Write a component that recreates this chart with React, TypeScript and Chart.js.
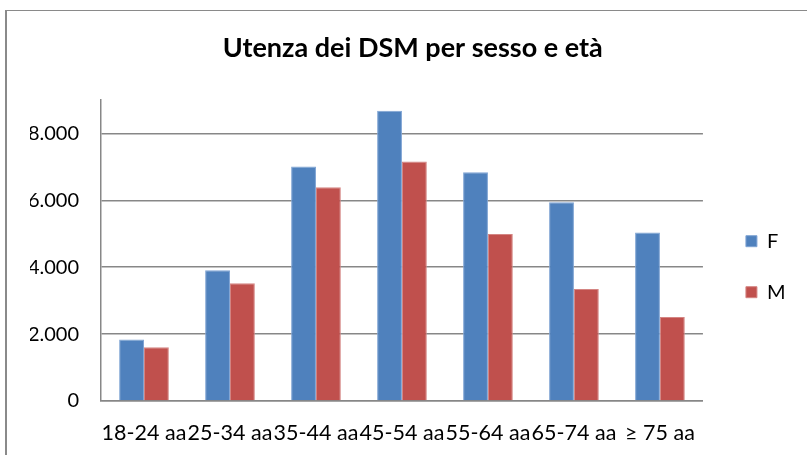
import React, { useEffect, useRef } from "react";
import { Chart, registerables } from "chart.js";

Chart.register(...registerables);

const categories = ["18-24 aa", "25-34 aa", "35-44 aa", "45-54 aa", "55-64 aa", "65-74 aa", "≥ 75 aa"];
const femaleValues = [1840, 3910, 7010, 8680, 6840, 5940, 5040];
const maleValues = [1610, 3520, 6390, 7160, 4990, 3350, 2510];
const seriesLabels = ["F", "M"];
const yTickValues = [0, 2000, 4000, 6000, 8000];
const yMax = 9000;
const titleText = "Utenza dei DSM per sesso e età";

const FONT = "Lato, 'Open Sans', 'DejaVu Sans', sans-serif";
const GRID = "#878787";

function formatIt(v: number): string {
  return v.toLocaleString("it-IT").replace(/\u00a0/g, ".");
}

export default function App() {
  const canvasRef = useRef<HTMLCanvasElement | null>(null);

  useEffect(() => {
    const canvas = canvasRef.current;
    if (!canvas) return;
    const chart = new Chart(canvas, {
      type: "bar",
      data: {
        labels: categories,
        datasets: [
          {
            label: seriesLabels[0],
            data: femaleValues,
            backgroundColor: "#4F81BD",
            borderColor: "#7FA4D4",
            borderWidth: 1,
            borderSkipped: "bottom",
            categoryPercentage: 0.578,
            barPercentage: 1,
          },
          {
            label: seriesLabels[1],
            data: maleValues,
            backgroundColor: "#C0504D",
            borderColor: "#D48583",
            borderWidth: 1,
            borderSkipped: "bottom",
            categoryPercentage: 0.578,
            barPercentage: 1,
          },
        ],
      },
      options: {
        responsive: false,
        animation: false,
        devicePixelRatio: 1,
        layout: { padding: { left: 30, right: 11.5, top: 0, bottom: 0 } },
        plugins: {
          title: {
            display: true,
            text: titleText,
            color: "#000",
            font: { family: FONT, size: 27, weight: "bold" },
            padding: { top: 32, bottom: 35.6 },
          },
          legend: {
            display: true,
            position: "right",
            fullSize: false,
            align: "center",
            title: { display: true, text: "", padding: { top: 9, bottom: 9 }, font: { size: 12 } },
            labels: {
              boxWidth: 11,
              boxHeight: 11,
              padding: 31,
              color: "#000",
              font: { family: FONT, size: 20 },
            },
          },
          tooltip: { enabled: false },
        },
        scales: {
          x: {
            grid: { display: false, drawTicks: false },
            border: { display: true, color: GRID, width: 1.5 },
            ticks: {
              color: "#000",
              font: { family: FONT, size: 21.5 },
              padding: 19,
              maxRotation: 0,
              autoSkip: false,
            },
            afterFit: (s: any) => {
              s.height = 54;
            },
          },
          y: {
            min: 0,
            max: yMax,
            afterBuildTicks: (s: any) => {
              s.ticks = [...yTickValues, yMax].map((v) => ({ value: v }));
            },
            grid: {
              drawTicks: false,
              color: (ctx: any) => (ctx.tick && ctx.tick.value === yMax ? "rgba(0,0,0,0)" : GRID),
              lineWidth: 1.5,
            },
            border: { display: true, color: GRID, width: 1.5 },
            ticks: {
              color: "#000",
              font: { family: FONT, size: 20 },
              padding: 22,
              callback: (v: any) => (Number(v) === yMax ? "" : formatIt(Number(v))),
            },
            afterFit: (s: any) => {
              s.width = 71;
            },
          },
          y2: {
            type: "linear",
            position: "right",
            display: true,
            grid: { display: false, drawTicks: false },
            border: { display: false },
            ticks: { display: false },
            afterFit: (s: any) => {
              s.width = 12;
            },
          },
        },
      },
    });
    return () => chart.destroy();
  }, []);

  return (
    <div
      style={{
        position: "fixed",
        left: 0,
        top: 0,
        width: 807,
        height: 455,
        overflow: "hidden",
        background: "#fff",
      }}
    >
      <canvas ref={canvasRef} width={807} height={455} style={{ width: 807, height: 455, display: "block" }} />
      <div
        style={{
          position: "absolute",
          left: 5,
          top: 10,
          width: 801,
          height: 600,
          borderLeft: "2px solid #8a8a8a",
          borderTop: "1.5px solid #8a8a8a",
          pointerEvents: "none",
        }}
      />
    </div>
  );
}
